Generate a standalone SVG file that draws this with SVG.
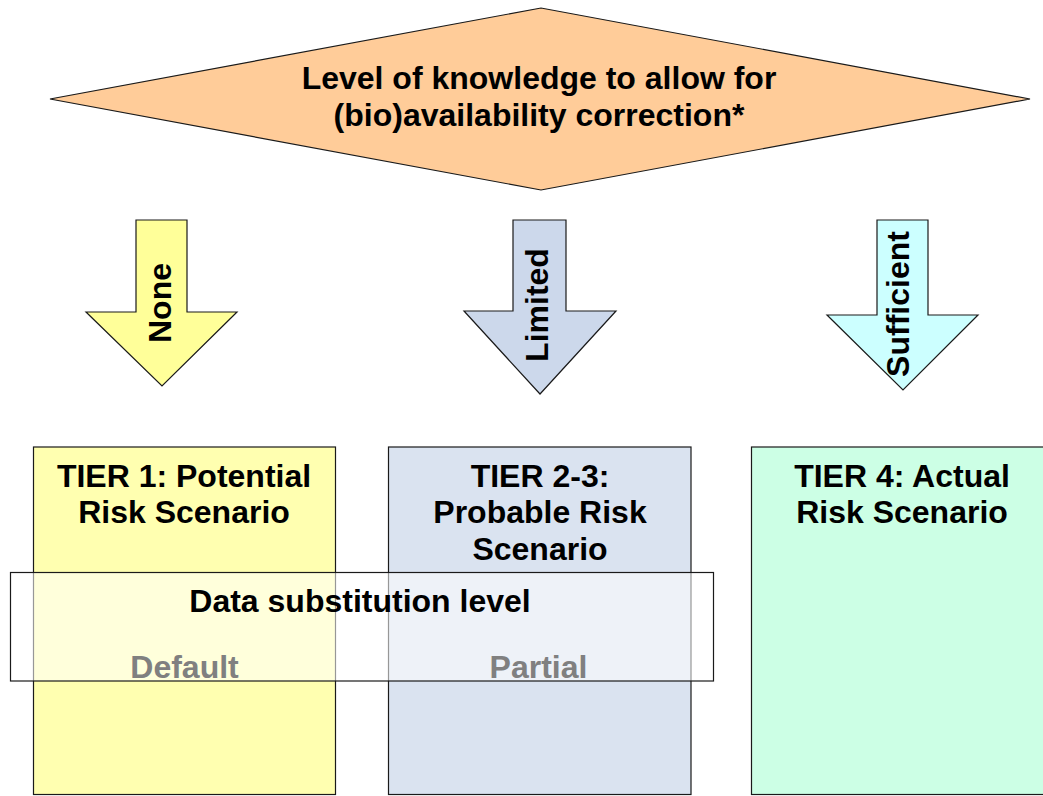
<svg xmlns="http://www.w3.org/2000/svg" width="1043" height="796" viewBox="0 0 1043 796">
<style>
.t{font-family:"Liberation Sans",Arial,sans-serif;font-weight:bold;font-size:32px;fill:#000;text-anchor:middle}
.g{fill:#808080}
.o{stroke:#1a1a1a;stroke-width:1.2}
</style>
<rect width="1043" height="796" fill="#fff"/>
<g id="decision">
<polygon points="50,99 541,8 1030,99 541,190" fill="#FFCC99" class="o"/>
<text class="t" x="539" y="89">Level of knowledge to allow for</text>
<text class="t" x="539" y="126">(bio)availability correction*</text>
</g>
<g id="connectors">
<g id="arrow-none">
<polygon points="136,220 187,220 187,312 237,312 162,386 86,312 136,312" fill="#FFFF99" class="o"/>
<text class="t" transform="translate(171,303) rotate(-90)">None</text>
</g>
<g id="arrow-limited">
<polygon points="513,220 566,220 566,311 616,311 540,394 464,311 513,311" fill="#CCD8EB" class="o"/>
<text class="t" transform="translate(548,305) rotate(-90)">Limited</text>
</g>
<g id="arrow-sufficient">
<polygon points="877,220 928,220 928,315 978,315 903,390 827,315 877,315" fill="#CCFFFF" class="o"/>
<text class="t" transform="translate(909,304) rotate(-90)">Sufficient</text>
</g>
</g>
<g id="tier1">
<rect x="33.5" y="447" width="302" height="347.5" fill="#FFFFB0" class="o"/>
<text class="t" x="184" y="487">TIER 1: Potential</text>
<text class="t" x="184" y="523">Risk Scenario</text>
</g>
<g id="tier2">
<rect x="388.5" y="447" width="302.5" height="347.5" fill="#DAE3F0" class="o"/>
<text class="t" x="540" y="487">TIER 2-3:</text>
<text class="t" x="540" y="523">Probable Risk</text>
<text class="t" x="540" y="560">Scenario</text>
</g>
<g id="tier4">
<rect x="751.5" y="447" width="310" height="347.5" fill="#CCFFE5" class="o"/>
<text class="t" x="902" y="487">TIER 4: Actual</text>
<text class="t" x="902" y="523">Risk Scenario</text>
</g>
<g id="data-substitution">
<rect x="10.5" y="572.5" width="703" height="108.5" fill="#fff" fill-opacity="0.55" class="o"/>
<text class="t" x="360" y="612">Data substitution level</text>
<text class="t g" x="184.5" y="678">Default</text>
<text class="t g" x="538.5" y="678">Partial</text>
</g>
</svg>
